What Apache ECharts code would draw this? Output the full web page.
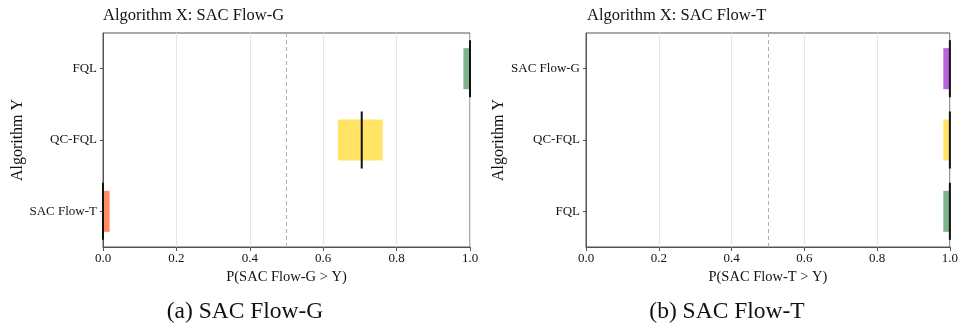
<!DOCTYPE html>
<html><head><meta charset="utf-8">
<script src="https://cdn.jsdelivr.net/npm/echarts@6/dist/echarts.min.js"></script>
<style>html,body{margin:0;padding:0;background:#fff}#c{width:961px;height:329px}</style>
</head><body><div id="c"></div>
<script>
// Panel (a): Algorithm X = SAC Flow-G (categories listed bottom to top)
const categoriesG = ['SAC Flow-T', 'QC-FQL', 'FQL'];
const lowG = [0.0, 0.640, 0.982];
const highG = [0.018, 0.762, 1.0];
const medianG = [0.0, 0.705, 1.0];
// Panel (b): Algorithm X = SAC Flow-T
const categoriesT = ['FQL', 'QC-FQL', 'SAC Flow-G'];
const lowT = [0.982, 0.982, 0.982];
const highT = [1.0, 1.0, 1.0];
const medianT = [1.0, 1.0, 1.0];
const xTicks = [0, 0.2, 0.4, 0.6, 0.8, 1.0];

const palette = {'FQL': '#7fb390', 'QC-FQL': '#ffe466', 'SAC Flow-T': '#ff8c5e', 'SAC Flow-G': '#b962e0'};
const FONT = '"Liberation Serif", "DejaVu Serif", serif';

function rows(cats, lo, hi, med) {
  return cats.map((c, i) => [i, lo[i], hi[i], med[i]]);
}
function makeRender(cats) {
  return function (params, api) {
    const yi = api.value(0);
    const p0 = api.coord([api.value(1), yi]);
    const p1 = api.coord([api.value(2), yi]);
    const pm = api.coord([api.value(3), yi]);
    const band = api.size([0, 1])[1];
    const h = band * 0.575, mh = band * 0.8;
    return {type: 'group', children: [
      {type: 'rect', shape: {x: p0[0], y: p0[1] - h / 2, width: Math.max(p1[0] - p0[0], 0), height: h},
       style: {fill: palette[cats[yi]]}},
      {type: 'line', shape: {x1: pm[0], y1: pm[1] - mh / 2, x2: pm[0], y2: pm[1] + mh / 2},
       style: {stroke: '#111', lineWidth: 2}}
    ]};
  };
}
function xAxis(idx, name) {
  return {
    type: 'value', gridIndex: idx, min: 0, max: 1, interval: 0.2,
    name: name, nameLocation: 'middle', nameGap: 18,
    nameTextStyle: {fontFamily: FONT, fontSize: 14.5, color: '#111'},
    axisLine: {show: true, lineStyle: {color: '#555', width: 1}},
    axisTick: {show: true, length: 4, lineStyle: {color: '#555'}},
    axisLabel: {fontFamily: FONT, fontSize: 13, color: '#111', margin: 5,
      formatter: v => v.toFixed(1)},
    splitLine: {show: true, lineStyle: {color: '#e6e6e6', width: 1}}
  };
}
function yAxis(idx, cats) {
  return {
    type: 'category', gridIndex: idx, data: cats,
    name: 'Algorithm Y', nameLocation: 'middle', nameGap: 74, nameRotate: 90,
    nameTextStyle: {fontFamily: FONT, fontSize: 16, color: '#111'},
    axisLine: {show: true, lineStyle: {color: '#555', width: 1}},
    axisTick: {show: true, length: 3, alignWithLabel: true, lineStyle: {color: '#555'}},
    axisLabel: {fontFamily: FONT, fontSize: 13, color: '#111', margin: 6},
    splitLine: {show: false}
  };
}
function refLine(idx) {
  return {type: 'line', xAxisIndex: idx, yAxisIndex: idx, data: [], silent: true,
    markLine: {silent: true, symbol: 'none', label: {show: false},
      lineStyle: {type: [4, 3], color: '#b0b0b0', width: 1}, data: [{xAxis: 0.5}]}};
}

const chart = echarts.init(document.getElementById('c'), null, {renderer: 'canvas'});
chart.setOption({
  animation: false,
  backgroundColor: '#fff',
  title: [
    {text: 'Algorithm X: SAC Flow-G', left: 98, top: 2,
     textStyle: {fontFamily: FONT, fontSize: 16.5, fontWeight: 'normal', color: '#111'}},
    {text: 'Algorithm X: SAC Flow-T', left: 582, top: 2,
     textStyle: {fontFamily: FONT, fontSize: 16.5, fontWeight: 'normal', color: '#111'}}
  ],
  grid: [
    {left: 103, width: 367, top: 33, height: 214, show: true, borderColor: '#555', borderWidth: 1, backgroundColor: 'transparent'},
    {left: 586, width: 366, top: 33, height: 214, show: true, borderColor: '#555', borderWidth: 1, backgroundColor: 'transparent'}
  ],
  xAxis: [xAxis(0, 'P(SAC Flow-G > Y)'), xAxis(1, 'P(SAC Flow-T > Y)')],
  yAxis: [yAxis(0, categoriesG), yAxis(1, categoriesT)],
  graphic: [
    {type: 'text', x: 245, y: 312, style: {text: '(a) SAC Flow-G', font: '23.5px ' + FONT, fill: '#111', textAlign: 'center', textVerticalAlign: 'middle'}},
    {type: 'text', x: 727, y: 312, style: {text: '(b) SAC Flow-T', font: '23.5px ' + FONT, fill: '#111', textAlign: 'center', textVerticalAlign: 'middle'}}
  ],
  series: [
    refLine(0), refLine(1),
    {type: 'custom', xAxisIndex: 0, yAxisIndex: 0, clip: false, renderItem: makeRender(categoriesG),
     encode: {x: [1, 2, 3], y: 0}, data: rows(categoriesG, lowG, highG, medianG)},
    {type: 'custom', xAxisIndex: 1, yAxisIndex: 1, clip: false, renderItem: makeRender(categoriesT),
     encode: {x: [1, 2, 3], y: 0}, data: rows(categoriesT, lowT, highT, medianT)}
  ]
});
</script></body></html>
